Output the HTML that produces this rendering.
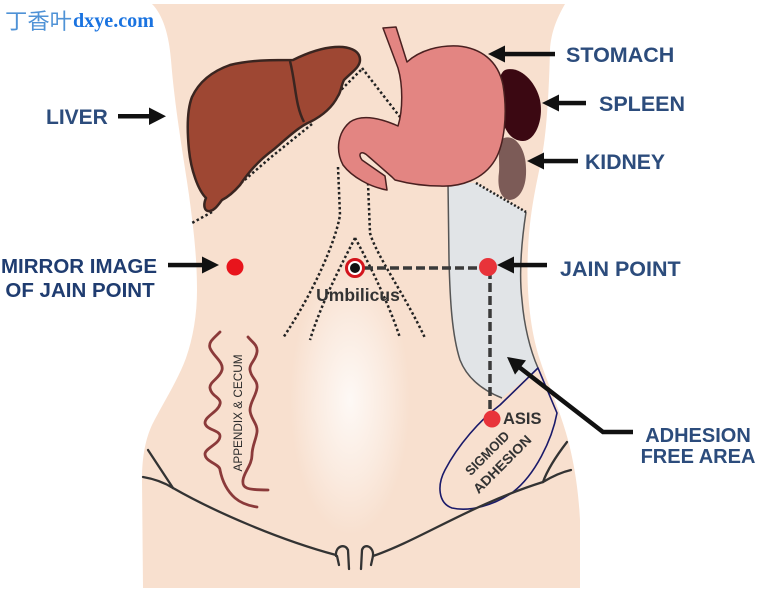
<!DOCTYPE html>
<html><head><meta charset="utf-8"><style>
html,body{margin:0;padding:0;background:#fff;}
svg{display:block;}
</style></head><body>
<svg width="758" height="592" viewBox="0 0 758 592" xmlns="http://www.w3.org/2000/svg">
<defs>
<radialGradient id="glow" cx="0.5" cy="0.5" r="0.5">
<stop offset="0" stop-color="#ffffff" stop-opacity="0.8"/>
<stop offset="0.6" stop-color="#ffffff" stop-opacity="0.35"/>
<stop offset="1" stop-color="#ffffff" stop-opacity="0"/>
</radialGradient>
</defs>
<rect width="758" height="592" fill="#fff"/>
<!-- body -->
<path d="M152,4 L565,4 C557,18 551,32 550,50 C549,90 547,125 543,150 C539,175 530,205 528,250 C526,290 530,330 540,360 C548,385 560,410 568,440 C576,470 579,500 580,520 L580,588 L143,588 L142,480 C142,455 146,438 152,425 C162,405 178,380 186,358 C193,338 197,315 197,290 C197,255 193,225 189,195 C184,160 175,110 171,60 C169,35 163,15 152,4 Z" fill="#f8e0cf"/>
<ellipse cx="350" cy="400" rx="60" ry="135" fill="url(#glow)"/>

<!-- dotted lines -->
<g fill="none" stroke="#222" stroke-width="2.5" stroke-dasharray="2.5 2.5">
<path d="M338,167 L340,215 C336,240 315,290 283,338"/>
<path d="M368,183 L370,233 C376,255 405,295 425,338"/>
<path d="M355,238 C348,252 322,300 310,340"/>
<path d="M355,238 C362,250 388,300 400,338"/>
<path d="M362,68 L400,117"/>
<path d="M361,70 L338,93"/>
<path d="M312,124 L270,158 L240,184 L225,197"/>
<path d="M212,212 L192,223"/>
</g>

<!-- adhesion free (gray) area -->
<path d="M448,183 L476,183 L526,212 C521,245 519,275 522,300 C524,325 530,350 538,368 L502,398 C482,390 467,378 460,360 C452,335 450,300 449,260 Z" fill="#e1e4e7"/>
<path d="M526,212 C521,245 519,275 522,300 C524,325 530,350 538,368" fill="none" stroke="#555" stroke-width="1.5"/>
<path d="M448,183 L449,260 C450,300 452,335 460,360 C467,378 482,390 502,398" fill="none" stroke="#555" stroke-width="1.5"/>
<path d="M476,183 L526,212" fill="none" stroke="#222" stroke-width="2.5" stroke-dasharray="2 2"/>

<!-- kidney -->
<path d="M504,138 C516,134 526,150 526,168 C527,188 519,200 509,200 C500,198 497,186 499,172 C500,160 496,143 504,138 Z" fill="#7c5b57"/>
<!-- spleen -->
<path d="M505,70 C520,65 536,82 540,100 C544,120 535,141 523,141 C511,141 504,130 501,115 C498,100 496,75 505,70 Z" fill="#3b0812"/>
<!-- stomach -->
<path d="M383,28 L396,27 L407,62 C420,50 440,45 458,46 C480,48 498,60 503,85 C508,115 504,145 495,160 C483,180 460,187 440,186 C425,186 410,184 395,180 L392,177 L368,156 C362,150 357,153 362,160 L385,176 L387,190 C370,187 352,177 343,165 C335,150 338,132 350,122 C362,114 380,118 398,126 C403,110 403,85 398,68 Z" fill="#e38582" stroke="#4a2020" stroke-width="1.5" stroke-linejoin="round"/>

<!-- liver -->
<path d="M192,97 C198,84 210,72 230,65 C250,60 270,60 293,60 C305,54 320,48 335,47 C348,46 360,50 360,60 C360,67 352,72 344,80 C341,86 341,92 338,96 C332,108 322,116 310,122 C298,127 285,140 273,150 C262,158 250,170 240,185 C233,193 226,198 222,200 C218,205 215,210 210,211 C204,212 203,205 206,198 C198,190 191,170 189,150 C187,130 187,110 192,97 Z" fill="#9e4733" stroke="#3a2520" stroke-width="2.5" stroke-linejoin="round"/>
<path d="M290,61 C296,85 295,105 304,122" fill="none" stroke="#3a2520" stroke-width="2.5"/>

<!-- sigmoid adhesion -->
<path d="M538,368 L557,413 C552,440 535,475 513,492 C495,505 470,512 452,508 C438,503 437,485 445,470 C458,445 480,420 500,405 Z" fill="#f8e0cf" stroke="#1a1a6a" stroke-width="1.6" stroke-linejoin="round"/>

<!-- appendix & cecum wavy lines -->
<g fill="none" stroke="#8b3a3a" stroke-width="2.8" stroke-linecap="round">
<path d="M220,332 C214,338 208,342 210,348 C213,356 224,362 222,370 C220,378 209,382 210,388 C211,396 222,398 220,404 C218,412 205,416 205,423 C206,430 220,430 220,436 C220,444 205,448 205,454 C205,462 220,464 220,470 C222,480 226,490 235,498 C242,504 250,506 257,507"/>
<path d="M248,337 C252,342 258,345 257,352 C256,360 249,364 250,370 C251,378 258,380 257,388 C256,396 250,402 250,410 C250,418 258,424 257,432 C256,440 252,446 252,455 C252,465 244,472 243,480 C242,488 246,490 268,490"/>
</g>
<text transform="translate(242,413) rotate(-90)" text-anchor="middle" font-family="Liberation Sans, sans-serif" font-size="11.5" fill="#2a2a2a" textLength="117" lengthAdjust="spacingAndGlyphs">APPENDIX &amp; CECUM</text>

<!-- body lines -->
<g fill="none" stroke="#333" stroke-width="2.3" stroke-linecap="round">
<path d="M148,450 L173,488"/>
<path d="M143,477 C155,479 165,483 173,488"/>
<path d="M173,488 C215,512 280,540 336,555"/>
<path d="M336,556 C335,546 345,543 348,550 L349,569"/>
<path d="M337,556 L339,565"/>
<path d="M373,556 C374,546 364,543 362,550 L361,569"/>
<path d="M373,556 L371,565"/>
<path d="M373,556 C420,540 470,505 543,482"/>
<path d="M567,442 C557,455 548,468 543,482"/>
<path d="M543,482 C553,476 562,472 571,470"/>
</g>

<!-- dashed connectors -->
<g fill="none" stroke="#3a3a3a" stroke-width="3.5" stroke-dasharray="9 4">
<path d="M364,268 L487,268"/>
<path d="M490,270 L490,418"/>
</g>

<!-- points -->
<circle cx="355" cy="268" r="8.5" fill="#fff" stroke="#d3141c" stroke-width="3"/>
<circle cx="355" cy="268" r="5" fill="#111"/>
<circle cx="488" cy="267" r="9" fill="#e8333a"/>
<circle cx="492" cy="419" r="8.5" fill="#e8333a"/>
<circle cx="235" cy="267" r="8.5" fill="#e8141c"/>

<!-- small labels -->
<g font-family="Liberation Sans, sans-serif" font-weight="bold" fill="#333">
<text x="358" y="301" text-anchor="middle" font-size="17.5">Umbilicus</text>
<text x="503" y="424" font-size="16.5">ASIS</text>
<text transform="translate(487,453) rotate(-45)" text-anchor="middle" y="5" font-size="13.5" textLength="56" lengthAdjust="spacingAndGlyphs">SIGMOID</text>
<text transform="translate(502,464) rotate(-45)" text-anchor="middle" y="5" font-size="13.5" textLength="76" lengthAdjust="spacingAndGlyphs">ADHESION</text>
</g>

<!-- arrows -->
<g fill="#111" stroke="none">
<rect x="118" y="114" width="34" height="4.5"/>
<polygon points="166,116.2 149,107.5 149,125"/>
<rect x="502" y="51.8" width="53" height="4.5"/>
<polygon points="488,54 505,45.5 505,62.5"/>
<rect x="556" y="100.8" width="30" height="4.5"/>
<polygon points="542,103 559,94.5 559,111.5"/>
<rect x="541" y="158.8" width="37" height="4.5"/>
<polygon points="527,161 544,152.5 544,169.5"/>
<rect x="511" y="262.8" width="36" height="4.5"/>
<polygon points="497,265 514,256.5 514,273.5"/>
<rect x="168" y="262.8" width="36" height="4.5"/>
<polygon points="219,265 202,256.5 202,273.5"/>
<polygon points="507,357 526,360.4 515,374.6"/>
</g>
<polyline points="633,432 603,432 519,367" fill="none" stroke="#111" stroke-width="4.5" stroke-linejoin="miter"/>

<!-- big labels -->
<g font-family="Liberation Sans, sans-serif" font-weight="bold" fill="#2c4c7c">
<text x="46" y="124" font-size="21">LIVER</text>
<text x="566" y="62" font-size="21.5">STOMACH</text>
<text x="599" y="111" font-size="21.5">SPLEEN</text>
<text x="585" y="169" font-size="21.2">KIDNEY</text>
<text x="560" y="276" font-size="21.5">JAIN POINT</text>
<text x="698" y="442" font-size="20" text-anchor="middle">ADHESION</text>
<text x="698" y="463" font-size="20" text-anchor="middle">FREE AREA</text>
</g>
<g font-family="Liberation Sans, sans-serif" font-weight="bold" fill="#1f3c70" text-anchor="middle">
<text x="79" y="273" font-size="20.5">MIRROR IMAGE</text>
<text x="80" y="297" font-size="20.5">OF JAIN POINT</text>
</g>

<!-- logo -->
<text x="5" y="29" font-family="Liberation Sans, 'Noto Sans CJK SC', sans-serif" font-size="22" fill="#4f92d6" textLength="67" lengthAdjust="spacingAndGlyphs">丁香叶</text>
<text x="73" y="27" font-family="Liberation Serif, serif" font-weight="bold" font-size="20" fill="#1a73e0" textLength="81" lengthAdjust="spacingAndGlyphs">dxye.com</text>
</svg>
</body></html>
